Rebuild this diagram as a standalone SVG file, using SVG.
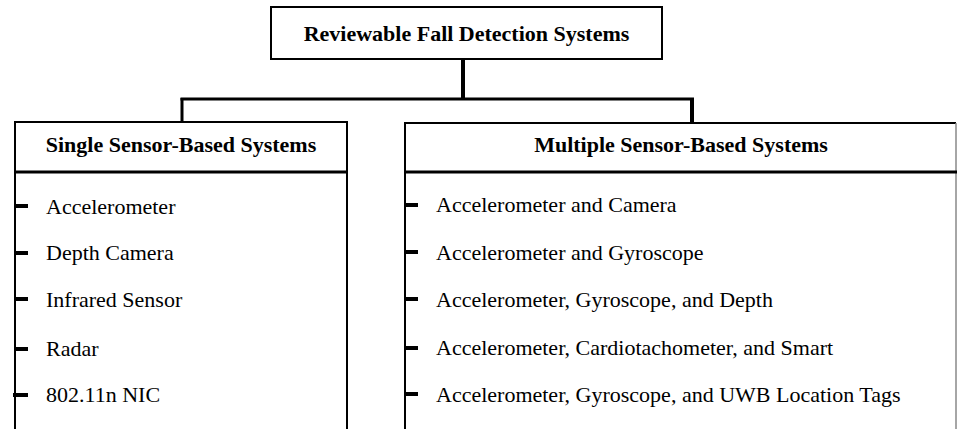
<svg xmlns="http://www.w3.org/2000/svg" width="957" height="429" viewBox="0 0 957 429">
<style>
.box{fill:#fff;stroke:#000;stroke-width:2}
.hdr{font-family:"Liberation Serif","Times New Roman",serif;font-weight:bold;font-size:22px;fill:#000;text-anchor:middle}
.item{font-family:"Liberation Serif","Times New Roman",serif;font-size:22px;fill:#000}
.conn{stroke:#000;fill:none}
.tick{stroke:#000;stroke-width:4}
</style>
<rect width="957" height="429" fill="#fff"/>
<g id="connectors">
<line class="conn" x1="463" y1="59" x2="463" y2="100" stroke-width="4"/>
<line class="conn" x1="180.5" y1="99" x2="694" y2="99" stroke-width="3"/>
<line class="conn" x1="182" y1="98" x2="182" y2="122" stroke-width="3"/>
<line class="conn" x1="692" y1="98" x2="692" y2="124" stroke-width="4"/>
</g>
<g id="root">
<rect class="box" x="271" y="7" width="391" height="52"/>
<text class="hdr" x="466.5" y="41">Reviewable Fall Detection Systems</text>
</g>
<g id="single">
<path d="M15,440 V122 H347 V440" fill="#fff" stroke="#000" stroke-width="2"/>
<line x1="15" y1="172" x2="347" y2="172" stroke="#000" stroke-width="3"/>
<text class="hdr" x="181" y="152">Single Sensor-Based Systems</text>
<line class="tick" x1="14" y1="206" x2="28" y2="206"/>
<line class="tick" x1="14" y1="253" x2="28" y2="253"/>
<line class="tick" x1="14" y1="299" x2="28" y2="299"/>
<line class="tick" x1="14" y1="349" x2="28" y2="349"/>
<line class="tick" x1="13" y1="395" x2="28" y2="395"/>
<text class="item" x="46" y="214">Accelerometer</text>
<text class="item" x="46" y="260">Depth Camera</text>
<text class="item" x="46" y="307">Infrared Sensor</text>
<text class="item" x="46" y="356">Radar</text>
<text class="item" x="46" y="402">802.11n NIC</text>
</g>
<g id="multiple">
<path d="M405,440 V123 H956" fill="#fff" stroke="#000" stroke-width="2"/>
<line x1="956" y1="123" x2="956" y2="440" stroke="#888" stroke-width="1.5"/>
<line x1="405" y1="172" x2="957" y2="172" stroke="#000" stroke-width="3"/>
<text class="hdr" x="681" y="152">Multiple Sensor-Based Systems</text>
<line class="tick" x1="404" y1="205" x2="418" y2="205"/>
<line class="tick" x1="404" y1="252" x2="418" y2="252"/>
<line class="tick" x1="404" y1="299" x2="418" y2="299"/>
<line class="tick" x1="404" y1="348" x2="418" y2="348"/>
<line class="tick" x1="404" y1="394" x2="418" y2="394"/>
<text class="item" x="436" y="212">Accelerometer and Camera</text>
<text class="item" x="436" y="260">Accelerometer and Gyroscope</text>
<text class="item" x="436" y="307">Accelerometer, Gyroscope, and Depth</text>
<text class="item" x="436" y="355">Accelerometer, Cardiotachometer, and Smart</text>
<text class="item" x="436" y="402">Accelerometer, Gyroscope, and UWB Location Tags</text>
</g>
</svg>
